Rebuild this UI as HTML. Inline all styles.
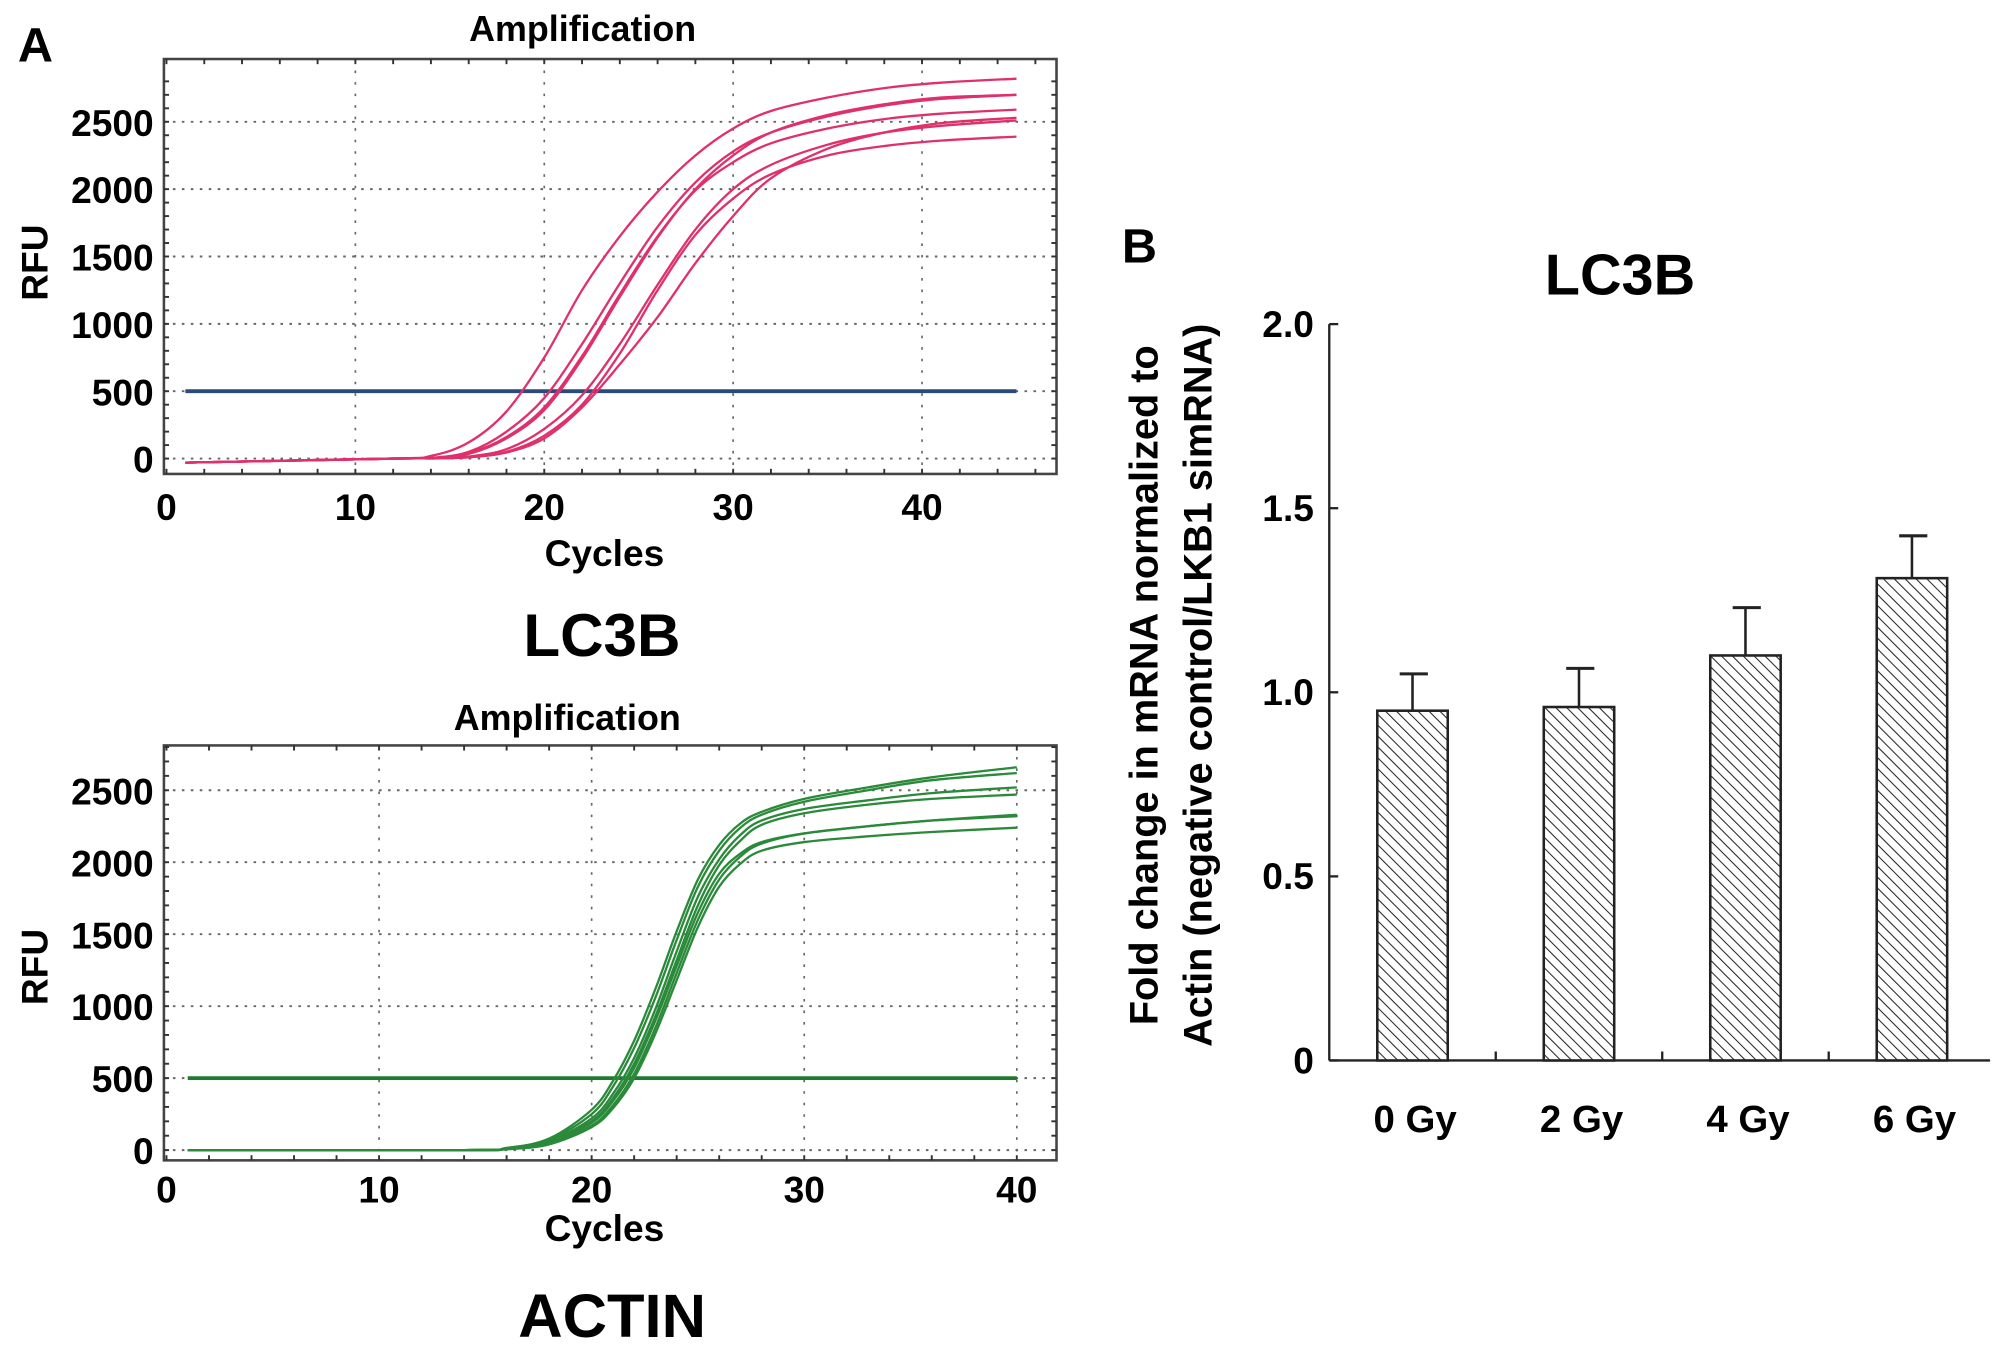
<!DOCTYPE html>
<html><head><meta charset="utf-8"><style>
html,body{margin:0;padding:0;background:#fff;}
svg{display:block;font-family:"Liberation Sans",Arial,sans-serif;font-weight:bold;}
</style></head><body>
<svg id="fig" width="2008" height="1350" viewBox="0 0 1568 1054">
<defs>
<pattern id="hatch" width="6" height="6" patternUnits="userSpaceOnUse" patternTransform="rotate(-45)">
<rect width="6" height="6" fill="#fff"/><line x1="0" y1="0" x2="0" y2="6" stroke="#222" stroke-width="1.6"/>
</pattern>
</defs>
<text x="14" y="48" font-size="38">A</text>
<text x="876" y="205" font-size="38">B</text>
<g id="top"></g>
<g id="bot"></g>
<g id="bar"></g>
</svg>
<script>
// ---- LC3B amplification data ----
const topCycles = [1,12,14,16,18,20,22,24,26,28,30,32,35,38,41,45];
const topC1 = [-30,0,20,120,350,750,1250,1650,1980,2250,2450,2580,2680,2750,2790,2820];
const topC2 = [-30,0,5,50,200,450,850,1300,1720,2050,2280,2420,2540,2620,2670,2700];
const topC3 = [-30,0,4,40,160,380,760,1220,1650,1990,2200,2340,2450,2520,2560,2590];
const topC4 = [-30,0,4,35,150,360,740,1200,1640,2000,2250,2420,2550,2630,2680,2700];
const topC5 = [-30,0,2,15,70,220,470,850,1290,1700,2000,2180,2330,2420,2470,2510];
const topC6 = [-30,0,1,10,50,170,400,780,1250,1660,1930,2110,2250,2320,2360,2390];
const topC7 = [-30,0,1,10,45,150,380,700,1050,1450,1800,2080,2300,2420,2490,2530];
const topSeries = [topC1,topC2,topC3,topC4,topC5,topC6,topC7];
const topXTicks = [0,10,20,30,40];
const topYTicks = [0,500,1000,1500,2000,2500];
const topThreshold = 500;
// ---- ACTIN amplification data ----
const botCycles = [1,14,16,18,20,21,22,23,24,25,26,27,28,30,33,36,40];
const botC1 = [0,0,15,80,280,480,760,1120,1520,1880,2120,2270,2350,2440,2520,2590,2660];
const botC2 = [0,0,12,70,250,440,710,1060,1460,1830,2080,2240,2330,2420,2500,2570,2620];
const botC3 = [0,0,10,60,220,390,640,980,1380,1760,2020,2190,2290,2370,2430,2480,2520];
const botC4 = [0,0,9,55,200,360,600,930,1320,1700,1980,2150,2260,2340,2400,2440,2470];
const botC5 = [0,0,8,50,190,340,570,900,1280,1650,1920,2060,2140,2200,2250,2290,2330];
const botC6 = [0,0,7,45,170,310,530,850,1230,1600,1880,2040,2130,2200,2250,2290,2320];
const botC7 = [0,0,6,40,160,290,500,810,1180,1550,1830,1990,2080,2140,2180,2210,2240];
const botSeries = [botC1,botC2,botC3,botC4,botC5,botC6,botC7];
const botXTicks = [0,10,20,30,40];
const botYTicks = [0,500,1000,1500,2000,2500];
const botThreshold = 500;
// ---- Bar chart data ----
const barCats = ["0 Gy","2 Gy","4 Gy","6 Gy"];
const barVals = [0.95,0.96,1.10,1.31];
const barErrs = [0.10,0.105,0.13,0.115];
const barYTicks = [0,0.5,1.0,1.5,2.0];
const barYLabels = ["0","0.5","1.0","1.5","2.0"];

const NS="http://www.w3.org/2000/svg";
function mk(parent,tag,attrs,text){const e=document.createElementNS(NS,tag);for(const k in attrs)e.setAttribute(k,attrs[k]);if(text!==undefined)e.textContent=text;parent.appendChild(e);return e;}
function smooth(pts){let d="M"+pts[0][0]+","+pts[0][1];for(let i=0;i<pts.length-1;i++){const p0=pts[Math.max(0,i-1)],p1=pts[i],p2=pts[i+1],p3=pts[Math.min(pts.length-1,i+2)];const c1x=p1[0]+(p2[0]-p0[0])/6,c1y=p1[1]+(p2[1]-p0[1])/6,c2x=p2[0]-(p3[0]-p1[0])/6,c2y=p2[1]-(p3[1]-p1[1])/6;d+=" C"+c1x+","+c1y+" "+c2x+","+c2y+" "+p2[0]+","+p2[1];}return d;}

function amp(g,cfg){
  const X=v=>cfg.x0+v*cfg.xs, Y=v=>cfg.y0-v*cfg.ys;
  const L=cfg.left,R=cfg.right,T=cfg.top,B=cfg.bottom;
  let t=mk(g,'text',{x:cfg.titleX,y:cfg.titleY,'font-size':28,'text-anchor':'middle'},'Amplification');
  
  cfg.xt.forEach(v=>{if(v===0)return;const l=mk(g,'line',{x1:X(v),x2:X(v),y1:T,y2:B,stroke:'#666','stroke-width':1.3,'stroke-dasharray':'2,7'});});
  cfg.yt.forEach(v=>{const l=mk(g,'line',{x1:L,x2:R,y1:Y(v),y2:Y(v),stroke:'#666','stroke-width':1.5,'stroke-dasharray':'2,5'});});
  const fr=mk(g,'rect',{x:L,y:T,width:R-L,height:B-T,fill:'none',stroke:'#444','stroke-width':2});
  
  for(let c=0;c<=cfg.xmax;c+=2){mk(g,'line',{x1:X(c),x2:X(c),y1:B,y2:B-4,stroke:'#333','stroke-width':1.5});mk(g,'line',{x1:X(c),x2:X(c),y1:T,y2:T+4,stroke:'#333','stroke-width':1.5});}
  for(let v=0;v<=2800;v+=100){if(Y(v)<T)break;mk(g,'line',{x1:L,x2:L+4,y1:Y(v),y2:Y(v),stroke:'#333','stroke-width':1.5});mk(g,'line',{x1:R,x2:R-4,y1:Y(v),y2:Y(v),stroke:'#333','stroke-width':1.5});}
  cfg.xt.forEach(v=>{const e=mk(g,'text',{x:X(v),y:cfg.xlabY,'font-size':29,'text-anchor':'middle'},String(v));});
  cfg.yt.forEach(v=>{const e=mk(g,'text',{x:L-8,y:Y(v)+11,'font-size':29,'text-anchor':'end'},String(v));});
  let yl=mk(g,'text',{x:0,y:0,'font-size':29,'text-anchor':'middle',transform:`translate(37,${cfg.rfuY}) rotate(-90)`},'RFU');
  
  let xl=mk(g,'text',{x:472,y:cfg.cycY,'font-size':29,'text-anchor':'middle'},'Cycles');
  
  let nm=mk(g,'text',{x:cfg.nameX,y:cfg.nameY,'font-size':cfg.nameSize,'text-anchor':'middle'},cfg.name);
  
  let th=mk(g,'line',{x1:X(1),x2:X(cfg.xend),y1:Y(cfg.th),y2:Y(cfg.th),stroke:cfg.thColor,'stroke-width':3});
  
  cfg.series.forEach(s=>{const pts=cfg.cyc.map((c,i)=>[X(c),Y(s[i])]);const p=mk(g,'path',{d:smooth(pts),fill:'none',stroke:cfg.color,'stroke-width':1.8});});
}
amp(document.getElementById('top'),{x0:130,xs:14.75,y0:358,ys:0.1052,left:128,right:825,top:46,bottom:370,xmax:46,xend:45,
 xt:topXTicks,yt:topYTicks,series:topSeries,cyc:topCycles,th:topThreshold,thColor:'#2a4a7a',color:'#e0306a',
 titleX:455,titleY:32,xlabY:406,rfuY:205,cycY:442,name:'LC3B',nameX:470,nameY:512,nameSize:47});
amp(document.getElementById('bot'),{x0:130,xs:16.6,y0:898,ys:0.1124,left:128,right:825,top:582,bottom:906,xmax:41,xend:40,
 xt:botXTicks,yt:botYTicks,series:botSeries,cyc:botCycles,th:botThreshold,thColor:'#1e7a2e',color:'#2a8a3a',
 titleX:443,titleY:570,xlabY:939,rfuY:755,cycY:969,name:'ACTIN',nameX:478,nameY:1044,nameSize:48});

(function(){
  const g=document.getElementById('bar');
  const x0=1038,y0=828,ys=287.5,bw=130,bwid=55;
  const Y=v=>y0-v*ys, C=i=>x0+bw*(i+0.5);
  let t=mk(g,'text',{x:1265,y:230,'font-size':45,'text-anchor':'middle'},'LC3B');
  
  let ya=mk(g,'line',{x1:x0,x2:x0,y1:Y(2),y2:y0,stroke:'#222','stroke-width':1.8});
  
  let xa=mk(g,'line',{x1:x0,x2:x0+bw*barCats.length-4,y1:y0,y2:y0,stroke:'#222','stroke-width':1.8});
  
  barYTicks.forEach((v,i)=>{mk(g,'line',{x1:x0,x2:x0+7,y1:Y(v),y2:Y(v),stroke:'#222','stroke-width':1.8});
    const e=mk(g,'text',{x:x0-12,y:Y(v)+10,'font-size':29,'text-anchor':'end'},barYLabels[i]);});
  for(let i=1;i<barCats.length;i++)mk(g,'line',{x1:x0+bw*i,x2:x0+bw*i,y1:y0,y2:y0-7,stroke:'#222','stroke-width':1.8});
  barCats.forEach((c,i)=>{
    const cx=C(i),v=barVals[i],e=barErrs[i];
    const el=mk(g,'line',{x1:cx,x2:cx,y1:Y(v),y2:Y(v+e),stroke:'#222','stroke-width':2});
    mk(g,'line',{x1:cx-10,x2:cx+12,y1:Y(v+e),y2:Y(v+e),stroke:'#222','stroke-width':2.4});
    const r=mk(g,'rect',{x:cx-bwid/2,y:Y(v),width:bwid,height:v*ys,fill:'url(#hatch)',stroke:'#222','stroke-width':2});
    
    const tl=mk(g,'text',{x:cx+2,y:884,'font-size':30,'text-anchor':'middle'},c);
  });
  let t1=mk(g,'text',{x:0,y:0,'font-size':31,'text-anchor':'middle',transform:'translate(904,535) rotate(-90)'},'Fold change in mRNA normalized to');
  
  let t2=mk(g,'text',{x:0,y:0,'font-size':31,'text-anchor':'middle',transform:'translate(946,535) rotate(-90)'},'Actin (negative control/LKB1 simRNA)');
  
})();
</script>
</body></html>
